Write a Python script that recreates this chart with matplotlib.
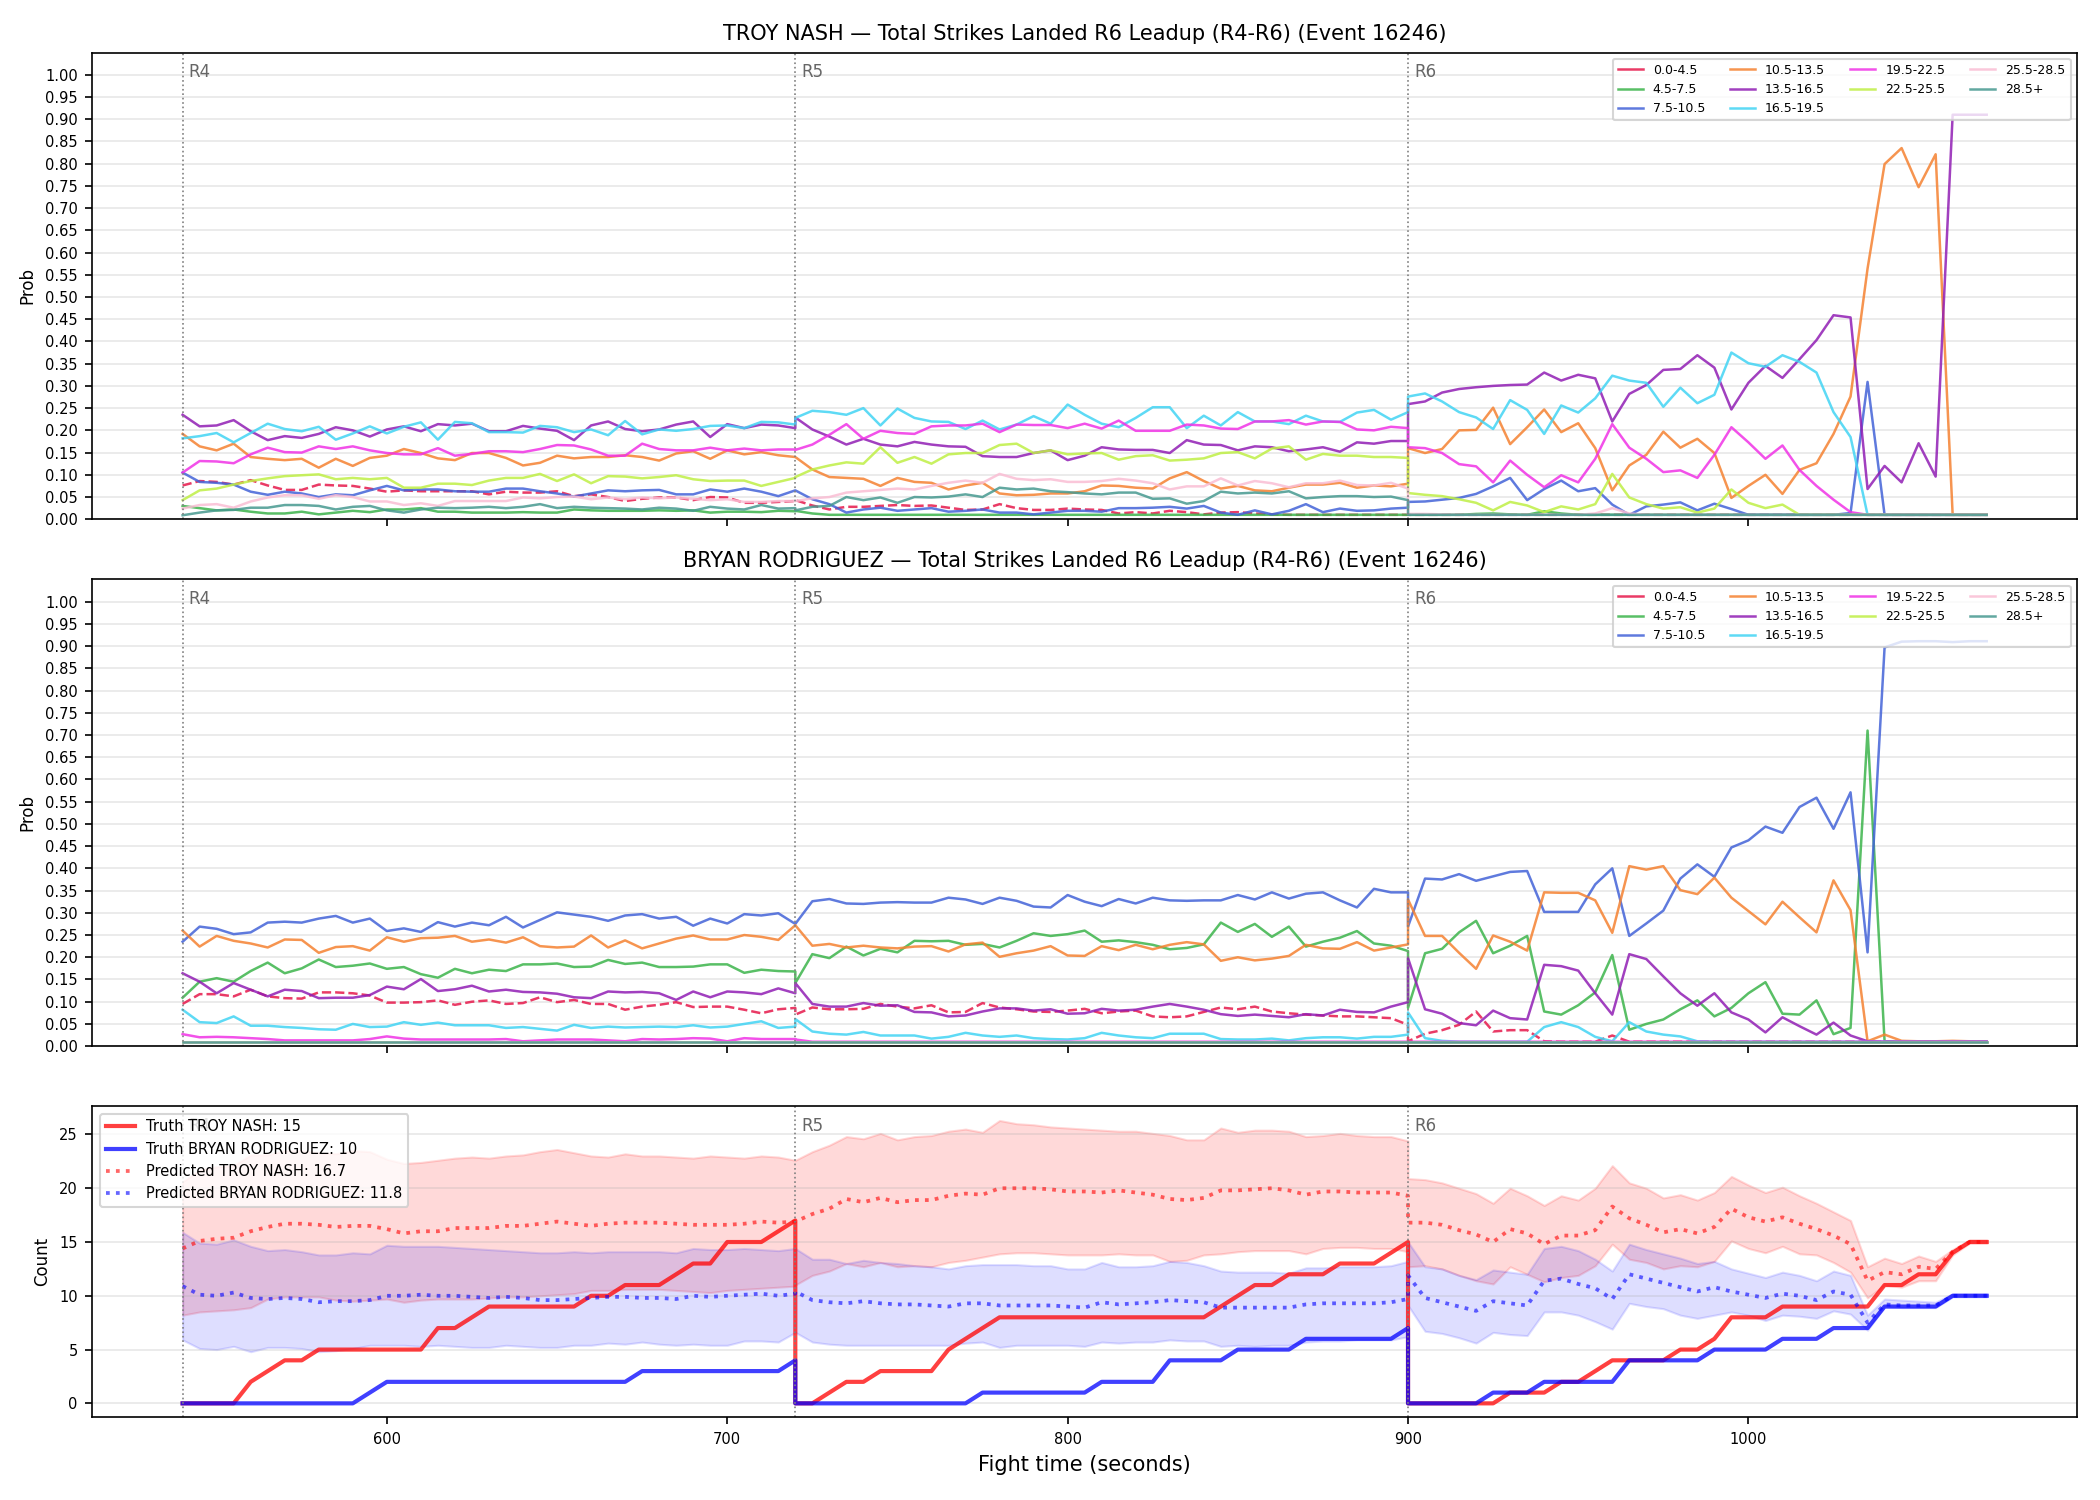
"""Strike-count bin probabilities for R4-R6 of event 16246, plus running totals."""

import matplotlib
matplotlib.use('Agg')
import matplotlib.pyplot as plt
from matplotlib.lines import Line2D
import numpy as np

# sample grid: every 5 s, each round keeps both of its end points
r4_t = list(range(540, 721, 5))
r5_t = list(range(720, 901, 5))
r6_t = list(range(900, 1071, 5))
times = r4_t + r5_t + r6_t
round_starts = [540, 720, 900]
round_names = ["R4", "R5", "R6"]

bins = ["0.0-4.5", "4.5-7.5", "7.5-10.5", "10.5-13.5", "13.5-16.5",
        "16.5-19.5", "19.5-22.5", "22.5-25.5", "25.5-28.5", "28.5+"]
colors = ['#e6194b', '#3cb44b', '#4363d8', '#f58231', '#911eb4',
          '#42d4f4', '#f032e6', '#bfef45', '#fabed4', '#469990']

# ---- TROY NASH bin probabilities (R4 | R5 | R6) ----
nash_b0 = [0.076,0.086,0.084,0.078,0.088,0.076,0.066,0.066,0.078,0.076,0.075,0.069,0.062,0.065,0.063,0.063,0.063,0.063,0.056,0.062,0.060,0.060,0.063,0.052,0.056,0.050,0.041,0.046,0.049,0.049,0.043,0.050,0.049,0.037,0.037,0.039,0.041] + \
          [0.043,0.031,0.022,0.028,0.028,0.030,0.032,0.030,0.031,0.026,0.021,0.022,0.034,0.025,0.021,0.021,0.024,0.022,0.021,0.013,0.016,0.013,0.019,0.016,0.011,0.015,0.016,0.013,0.011,0.01,0.01,0.01,0.01,0.01,0.01,0.01,0.01] + \
          [0.01,0.01,0.01,0.01,0.01,0.01,0.01,0.01,0.01,0.01,0.01,0.01,0.01,0.01,0.01,0.01,0.01,0.01,0.01,0.01,0.01,0.01,0.01,0.01,0.01,0.01,0.01,0.01,0.01,0.01,0.01,0.01,0.01,0.01,0.01]
nash_b1 = [0.030,0.025,0.020,0.022,0.017,0.013,0.013,0.017,0.011,0.015,0.019,0.016,0.022,0.022,0.025,0.017,0.017,0.015,0.015,0.015,0.016,0.015,0.015,0.022,0.020,0.019,0.019,0.019,0.020,0.019,0.020,0.015,0.017,0.017,0.016,0.019,0.018] + \
          [0.019,0.013,0.01,0.01,0.01,0.01,0.01,0.01,0.01,0.01,0.01,0.01,0.01,0.01,0.01,0.01,0.01,0.01,0.01,0.01,0.01,0.01,0.01,0.01,0.01,0.01,0.01,0.01,0.01,0.01,0.01,0.01,0.01,0.01,0.01,0.01,0.01] + \
          [0.01,0.01,0.01,0.01,0.012,0.013,0.011,0.01,0.018,0.013,0.01,0.01,0.01,0.01,0.01,0.01,0.01,0.01,0.01,0.01,0.01,0.01,0.01,0.01,0.01,0.01,0.01,0.01,0.01,0.01,0.01,0.01,0.01,0.01,0.01]
nash_b2 = [0.105,0.084,0.082,0.078,0.062,0.055,0.062,0.058,0.050,0.056,0.054,0.065,0.075,0.065,0.067,0.067,0.063,0.062,0.062,0.069,0.069,0.063,0.058,0.051,0.058,0.065,0.063,0.065,0.066,0.056,0.056,0.067,0.062,0.069,0.062,0.052,0.065] + \
          [0.065,0.045,0.034,0.015,0.022,0.026,0.019,0.022,0.025,0.017,0.019,0.022,0.015,0.015,0.011,0.015,0.019,0.019,0.017,0.025,0.025,0.026,0.028,0.024,0.030,0.015,0.010,0.020,0.011,0.019,0.034,0.016,0.024,0.019,0.020,0.024,0.026] + \
          [0.039,0.040,0.044,0.048,0.057,0.074,0.093,0.043,0.068,0.087,0.063,0.070,0.033,0.010,0.029,0.033,0.038,0.020,0.035,0.023,0.01,0.01,0.01,0.01,0.01,0.01,0.014,0.309,0.01,0.01,0.01,0.01,0.01,0.01,0.01]
nash_b3 = [0.192,0.164,0.155,0.170,0.140,0.136,0.133,0.136,0.116,0.136,0.120,0.138,0.143,0.158,0.149,0.137,0.133,0.149,0.149,0.138,0.121,0.127,0.143,0.137,0.140,0.140,0.144,0.140,0.132,0.148,0.153,0.136,0.155,0.146,0.151,0.144,0.140] + \
          [0.140,0.112,0.095,0.093,0.091,0.075,0.093,0.084,0.082,0.067,0.076,0.082,0.058,0.054,0.055,0.058,0.058,0.063,0.076,0.075,0.071,0.069,0.092,0.106,0.086,0.069,0.075,0.065,0.063,0.071,0.078,0.078,0.082,0.071,0.076,0.074,0.080] + \
          [0.160,0.149,0.158,0.200,0.201,0.251,0.169,0.207,0.247,0.196,0.216,0.160,0.065,0.121,0.145,0.197,0.161,0.181,0.149,0.048,0.075,0.100,0.057,0.111,0.126,0.192,0.276,0.564,0.799,0.835,0.747,0.821,0.01,0.01,0.01]
nash_b4 = [0.235,0.209,0.211,0.223,0.198,0.178,0.187,0.183,0.192,0.207,0.200,0.186,0.202,0.209,0.198,0.214,0.211,0.215,0.198,0.198,0.210,0.204,0.199,0.178,0.211,0.220,0.203,0.198,0.202,0.213,0.220,0.185,0.214,0.205,0.213,0.211,0.205] + \
          [0.229,0.202,0.186,0.168,0.181,0.168,0.164,0.174,0.168,0.164,0.163,0.142,0.140,0.140,0.149,0.155,0.133,0.143,0.162,0.157,0.156,0.156,0.149,0.178,0.168,0.167,0.155,0.164,0.162,0.153,0.157,0.162,0.152,0.173,0.170,0.176,0.176] + \
          [0.259,0.265,0.285,0.293,0.297,0.300,0.302,0.303,0.330,0.312,0.325,0.317,0.220,0.282,0.302,0.336,0.338,0.369,0.341,0.247,0.307,0.345,0.318,0.360,0.403,0.459,0.454,0.068,0.120,0.083,0.171,0.096,0.910,0.910,0.910]
nash_b5 = [0.182,0.187,0.194,0.173,0.194,0.215,0.203,0.198,0.208,0.179,0.193,0.209,0.193,0.208,0.218,0.179,0.219,0.216,0.196,0.196,0.195,0.210,0.207,0.196,0.202,0.189,0.221,0.191,0.202,0.199,0.203,0.210,0.211,0.205,0.219,0.218,0.213] + \
          [0.228,0.244,0.241,0.235,0.250,0.211,0.249,0.228,0.220,0.219,0.203,0.222,0.202,0.213,0.232,0.215,0.258,0.235,0.215,0.207,0.228,0.252,0.252,0.205,0.233,0.211,0.241,0.220,0.220,0.214,0.233,0.220,0.219,0.240,0.246,0.224,0.241] + \
          [0.276,0.283,0.265,0.241,0.229,0.203,0.268,0.246,0.192,0.256,0.240,0.272,0.323,0.312,0.307,0.253,0.296,0.261,0.280,0.375,0.351,0.343,0.369,0.354,0.330,0.241,0.185,0.01,0.01,0.01,0.01,0.01,0.01,0.01,0.01]
nash_b6 = [0.105,0.131,0.130,0.126,0.146,0.161,0.151,0.150,0.164,0.158,0.164,0.155,0.149,0.146,0.146,0.160,0.143,0.147,0.153,0.153,0.151,0.158,0.167,0.166,0.157,0.143,0.143,0.170,0.158,0.155,0.155,0.161,0.155,0.159,0.155,0.157,0.157] + \
          [0.156,0.168,0.190,0.214,0.181,0.199,0.194,0.192,0.209,0.211,0.211,0.215,0.196,0.213,0.212,0.212,0.205,0.215,0.204,0.222,0.199,0.199,0.199,0.213,0.211,0.204,0.203,0.220,0.220,0.223,0.213,0.220,0.219,0.202,0.200,0.208,0.205] + \
          [0.162,0.160,0.149,0.124,0.119,0.083,0.132,0.100,0.072,0.099,0.083,0.136,0.214,0.161,0.136,0.106,0.110,0.093,0.145,0.207,0.173,0.136,0.166,0.111,0.075,0.044,0.016,0.01,0.01,0.01,0.01,0.01,0.01,0.01,0.01]
nash_b7 = [0.043,0.065,0.069,0.078,0.086,0.092,0.097,0.099,0.101,0.090,0.093,0.090,0.093,0.071,0.071,0.080,0.080,0.077,0.087,0.093,0.093,0.102,0.086,0.101,0.081,0.097,0.096,0.092,0.095,0.099,0.090,0.086,0.087,0.087,0.075,0.084,0.093] + \
          [0.095,0.112,0.121,0.128,0.125,0.162,0.127,0.140,0.125,0.146,0.149,0.149,0.167,0.170,0.149,0.155,0.146,0.148,0.149,0.134,0.142,0.144,0.132,0.134,0.137,0.149,0.151,0.137,0.159,0.164,0.134,0.147,0.143,0.143,0.140,0.140,0.138] + \
          [0.059,0.055,0.052,0.045,0.037,0.020,0.039,0.031,0.016,0.029,0.022,0.034,0.102,0.049,0.034,0.024,0.027,0.015,0.024,0.067,0.037,0.025,0.033,0.01,0.01,0.01,0.01,0.01,0.01,0.01,0.01,0.01,0.01,0.01,0.01]
nash_b8 = [0.024,0.032,0.034,0.026,0.040,0.049,0.054,0.054,0.046,0.054,0.050,0.040,0.040,0.032,0.036,0.030,0.041,0.041,0.041,0.041,0.049,0.047,0.050,0.051,0.045,0.049,0.045,0.049,0.047,0.049,0.046,0.043,0.045,0.039,0.039,0.041,0.041] + \
          [0.041,0.047,0.050,0.060,0.063,0.066,0.069,0.067,0.075,0.082,0.087,0.082,0.102,0.091,0.088,0.090,0.084,0.084,0.086,0.091,0.087,0.081,0.067,0.074,0.074,0.092,0.076,0.086,0.081,0.072,0.081,0.081,0.087,0.077,0.076,0.082,0.069] + \
          [0.012,0.012,0.011,0.01,0.01,0.01,0.01,0.01,0.01,0.01,0.01,0.013,0.025,0.013,0.01,0.01,0.01,0.01,0.01,0.01,0.01,0.01,0.01,0.01,0.01,0.01,0.01,0.01,0.01,0.01,0.01,0.01,0.01,0.01,0.01]
nash_b9 = [0.009,0.015,0.020,0.021,0.026,0.026,0.032,0.032,0.030,0.022,0.028,0.030,0.020,0.015,0.022,0.026,0.025,0.026,0.028,0.025,0.028,0.034,0.025,0.028,0.026,0.025,0.024,0.022,0.026,0.024,0.019,0.028,0.024,0.022,0.032,0.024,0.025] + \
          [0.020,0.028,0.030,0.050,0.043,0.049,0.037,0.050,0.049,0.051,0.056,0.050,0.071,0.067,0.069,0.063,0.061,0.058,0.056,0.060,0.060,0.046,0.047,0.035,0.041,0.062,0.058,0.060,0.058,0.063,0.047,0.050,0.052,0.052,0.050,0.051,0.043] + \
          [0.01,0.01,0.01,0.01,0.01,0.01,0.01,0.01,0.01,0.01,0.01,0.01,0.01,0.01,0.01,0.01,0.01,0.01,0.01,0.01,0.01,0.01,0.01,0.01,0.01,0.01,0.01,0.01,0.01,0.01,0.01,0.01,0.01,0.01,0.01]

# ---- BRYAN RODRIGUEZ bin probabilities (R4 | R5 | R6) ----
rod_b0 = [0.095,0.117,0.117,0.112,0.127,0.112,0.108,0.107,0.121,0.121,0.119,0.114,0.098,0.098,0.099,0.103,0.093,0.100,0.103,0.095,0.097,0.110,0.099,0.104,0.095,0.095,0.082,0.089,0.093,0.099,0.088,0.089,0.089,0.082,0.074,0.083,0.086] + \
         [0.071,0.087,0.083,0.083,0.084,0.095,0.089,0.085,0.092,0.076,0.077,0.097,0.087,0.083,0.078,0.077,0.080,0.084,0.074,0.078,0.080,0.067,0.065,0.067,0.077,0.087,0.083,0.089,0.078,0.074,0.071,0.069,0.067,0.067,0.065,0.063,0.048] + \
         [0.011,0.028,0.036,0.048,0.078,0.033,0.036,0.036,0.011,0.01,0.01,0.01,0.024,0.01,0.01,0.01,0.01,0.01,0.01,0.01,0.01,0.01,0.01,0.01,0.01,0.01,0.01,0.01,0.01,0.01,0.01,0.01,0.01,0.01,0.01]
rod_b1 = [0.109,0.145,0.153,0.145,0.169,0.188,0.164,0.175,0.195,0.178,0.181,0.186,0.174,0.178,0.162,0.154,0.174,0.164,0.172,0.169,0.184,0.184,0.186,0.178,0.179,0.194,0.185,0.188,0.178,0.178,0.179,0.184,0.184,0.165,0.172,0.169,0.168] + \
         [0.142,0.207,0.198,0.224,0.204,0.219,0.211,0.237,0.236,0.237,0.228,0.230,0.222,0.237,0.254,0.248,0.252,0.260,0.235,0.238,0.234,0.228,0.218,0.221,0.229,0.278,0.257,0.275,0.246,0.269,0.224,0.235,0.244,0.259,0.231,0.226,0.214] + \
         [0.086,0.209,0.219,0.256,0.282,0.209,0.226,0.248,0.078,0.071,0.092,0.121,0.205,0.037,0.050,0.060,0.083,0.103,0.067,0.086,0.119,0.144,0.073,0.071,0.103,0.027,0.041,0.710,0.011,0.01,0.01,0.01,0.01,0.01,0.01]
rod_b2 = [0.235,0.269,0.264,0.252,0.256,0.278,0.280,0.278,0.287,0.293,0.278,0.287,0.259,0.265,0.257,0.279,0.269,0.278,0.272,0.291,0.267,0.284,0.301,0.296,0.291,0.282,0.294,0.297,0.287,0.291,0.271,0.287,0.276,0.297,0.294,0.299,0.275] + \
         [0.275,0.326,0.331,0.321,0.320,0.323,0.324,0.323,0.323,0.334,0.330,0.320,0.334,0.327,0.314,0.312,0.340,0.325,0.315,0.331,0.321,0.334,0.328,0.327,0.328,0.328,0.340,0.330,0.346,0.332,0.343,0.346,0.328,0.312,0.354,0.346,0.346] + \
         [0.269,0.377,0.375,0.387,0.372,0.382,0.392,0.394,0.302,0.302,0.302,0.364,0.400,0.248,0.276,0.305,0.377,0.409,0.381,0.447,0.463,0.494,0.480,0.538,0.559,0.489,0.571,0.211,0.897,0.910,0.911,0.911,0.909,0.911,0.911]
rod_b3 = [0.260,0.224,0.248,0.237,0.231,0.222,0.240,0.239,0.210,0.223,0.225,0.215,0.245,0.235,0.243,0.244,0.248,0.235,0.240,0.233,0.245,0.225,0.222,0.224,0.249,0.222,0.238,0.220,0.231,0.242,0.249,0.240,0.240,0.250,0.246,0.239,0.272] + \
         [0.272,0.226,0.230,0.222,0.226,0.222,0.220,0.224,0.225,0.213,0.229,0.233,0.201,0.209,0.215,0.225,0.204,0.203,0.225,0.216,0.228,0.218,0.228,0.234,0.229,0.192,0.200,0.193,0.197,0.203,0.228,0.220,0.219,0.234,0.215,0.222,0.229] + \
         [0.330,0.248,0.248,0.210,0.174,0.249,0.235,0.215,0.346,0.345,0.345,0.328,0.255,0.405,0.397,0.405,0.351,0.342,0.379,0.334,0.304,0.274,0.325,0.290,0.256,0.373,0.306,0.011,0.026,0.012,0.011,0.011,0.012,0.011,0.01]
rod_b4 = [0.164,0.145,0.119,0.142,0.127,0.112,0.127,0.124,0.108,0.109,0.109,0.115,0.134,0.128,0.151,0.124,0.128,0.136,0.123,0.127,0.122,0.121,0.118,0.110,0.108,0.123,0.121,0.122,0.119,0.104,0.123,0.110,0.123,0.121,0.117,0.130,0.119] + \
         [0.142,0.095,0.089,0.089,0.097,0.091,0.092,0.077,0.076,0.067,0.069,0.078,0.085,0.085,0.080,0.083,0.073,0.074,0.084,0.080,0.082,0.089,0.095,0.089,0.082,0.072,0.068,0.071,0.068,0.065,0.072,0.069,0.082,0.077,0.076,0.089,0.099] + \
         [0.198,0.083,0.073,0.052,0.047,0.080,0.063,0.060,0.183,0.180,0.170,0.119,0.071,0.207,0.196,0.157,0.119,0.091,0.119,0.076,0.060,0.031,0.065,0.045,0.026,0.053,0.024,0.011,0.01,0.01,0.01,0.01,0.01,0.01,0.01]
rod_b5 = [0.082,0.054,0.052,0.067,0.046,0.046,0.043,0.041,0.038,0.037,0.050,0.043,0.044,0.054,0.048,0.053,0.047,0.047,0.047,0.041,0.043,0.039,0.035,0.048,0.041,0.044,0.042,0.043,0.044,0.043,0.047,0.042,0.044,0.050,0.056,0.041,0.044] + \
         [0.061,0.033,0.028,0.026,0.032,0.024,0.024,0.024,0.017,0.021,0.030,0.024,0.021,0.024,0.018,0.016,0.015,0.018,0.030,0.024,0.020,0.018,0.028,0.028,0.028,0.016,0.015,0.015,0.017,0.013,0.018,0.020,0.020,0.017,0.021,0.021,0.026] + \
         [0.076,0.018,0.012,0.01,0.01,0.01,0.01,0.01,0.043,0.054,0.043,0.021,0.011,0.054,0.033,0.026,0.022,0.011,0.01,0.01,0.01,0.01,0.01,0.01,0.01,0.01,0.01,0.01,0.01,0.01,0.01,0.01,0.01,0.01,0.01]
rod_b6 = [0.027,0.020,0.021,0.020,0.018,0.016,0.013,0.013,0.013,0.013,0.013,0.016,0.022,0.017,0.015,0.015,0.015,0.015,0.015,0.016,0.011,0.013,0.015,0.015,0.015,0.013,0.011,0.016,0.015,0.016,0.018,0.017,0.011,0.018,0.016,0.016,0.016] + \
         [0.015,0.01,0.01,0.01,0.01,0.01,0.01,0.01,0.01,0.01,0.01,0.01,0.01,0.01,0.01,0.01,0.01,0.01,0.01,0.01,0.01,0.01,0.01,0.01,0.01,0.01,0.01,0.01,0.01,0.01,0.01,0.01,0.01,0.01,0.01,0.01,0.01] + \
         [0.01,0.01,0.01,0.01,0.01,0.01,0.01,0.01,0.01,0.01,0.01,0.01,0.01,0.01,0.01,0.01,0.01,0.01,0.01,0.01,0.01,0.01,0.01,0.01,0.01,0.01,0.01,0.01,0.01,0.01,0.01,0.01,0.01,0.01,0.01]
rod_flat = [0.01,0.01,0.01,0.01,0.01,0.01,0.01,0.01,0.01,0.01,0.01,0.01,0.01,0.01,0.01,0.01,0.01,0.01,0.01,0.01,0.01,0.01,0.01,0.01,0.01,0.01,0.01,0.01,0.01,0.01,0.01,0.01,0.01,0.01,0.01,0.01,0.01] + \
           [0.01,0.01,0.01,0.01,0.01,0.01,0.01,0.01,0.01,0.01,0.01,0.01,0.01,0.01,0.01,0.01,0.01,0.01,0.01,0.01,0.01,0.01,0.01,0.01,0.01,0.01,0.01,0.01,0.01,0.01,0.01,0.01,0.01,0.01,0.01,0.01,0.01] + \
           [0.01,0.01,0.01,0.01,0.01,0.01,0.01,0.01,0.01,0.01,0.01,0.01,0.01,0.01,0.01,0.01,0.01,0.01,0.01,0.01,0.01,0.01,0.01,0.01,0.01,0.01,0.01,0.01,0.01,0.01,0.01,0.01,0.01,0.01,0.01]
rod_b7 = rod_flat
rod_b8 = rod_flat
rod_b9 = rod_flat

# ---- running totals (R4 | R5 | R6) ----
truth_nash = [0,0,0,0,2,3,4,4,5,5,5,5,5,5,5,7,7,8,9,9,9,9,9,9,10,10,11,11,11,12,13,13,15,15,15,16,17] + \
             [0,0,1,2,2,3,3,3,3,5,6,7,8,8,8,8,8,8,8,8,8,8,8,8,8,9,10,11,11,12,12,12,13,13,13,14,15] + \
             [0,0,0,0,0,0,1,1,1,2,2,3,4,4,4,4,5,5,6,8,8,8,9,9,9,9,9,9,11,11,12,12,14,15,15]
truth_rod = [0,0,0,0,0,0,0,0,0,0,0,1,2,2,2,2,2,2,2,2,2,2,2,2,2,2,2,3,3,3,3,3,3,3,3,3,4] + \
            [0,0,0,0,0,0,0,0,0,0,0,1,1,1,1,1,1,1,2,2,2,2,4,4,4,4,5,5,5,5,6,6,6,6,6,6,7] + \
            [0,0,0,0,0,1,1,1,2,2,2,2,2,4,4,4,4,4,5,5,5,5,6,6,6,7,7,7,9,9,9,9,10,10,10]
pred_nash = [14.4,15.1,15.3,15.4,16.0,16.4,16.7,16.7,16.6,16.4,16.5,16.5,16.2,15.8,16.0,16.0,16.3,16.3,16.3,16.5,16.5,16.7,16.9,16.7,16.5,16.7,16.8,16.8,16.8,16.7,16.6,16.6,16.6,16.7,16.9,16.8,16.9] + \
            [16.9,17.6,18.1,19.0,18.7,19.1,18.7,18.9,18.9,19.3,19.5,19.4,20.0,20.0,20.0,19.9,19.7,19.7,19.6,19.8,19.6,19.4,19.0,18.9,19.1,19.8,19.8,19.9,20.0,19.8,19.4,19.7,19.7,19.6,19.6,19.6,19.3] + \
            [16.8,16.8,16.6,16.1,15.7,15.0,16.2,15.8,14.8,15.6,15.6,16.1,18.3,17.2,16.6,15.9,16.2,15.8,16.4,18.1,17.3,16.9,17.3,16.7,16.2,15.6,14.8,11.4,12.2,12.0,12.7,12.5,14.1,15.0,15.0]
nash_hi = [20.6,21.7,22.0,22.1,23.1,23.1,23.5,23.5,23.3,23.2,23.5,23.4,22.7,22.3,22.4,22.6,22.8,22.9,22.8,23.0,23.1,23.4,23.6,23.3,23.0,22.9,23.2,23.0,23.0,22.9,22.8,23.0,22.9,22.8,23.0,22.9,22.6] + \
          [22.6,23.4,24.0,24.8,24.6,25.1,24.5,24.8,24.9,25.3,25.5,25.2,26.3,26.0,25.9,25.7,25.6,25.5,25.4,25.3,25.3,25.1,24.9,24.5,24.5,25.6,25.2,25.4,25.4,25.3,24.8,24.9,25.1,24.9,24.8,24.8,24.4] + \
          [20.9,20.8,20.5,20.0,19.5,18.6,20.0,19.3,18.4,19.3,18.9,20.0,22.1,20.5,20.0,19.1,19.4,18.9,19.6,21.1,20.3,19.6,20.1,19.3,18.6,17.8,17.0,12.7,13.5,13.0,13.7,13.2,14.3,15.2,15.2]
nash_lo = [8.2,8.5,8.6,8.7,8.9,9.7,9.9,9.9,9.9,9.6,9.5,9.6,9.7,9.4,9.6,9.7,9.7,9.7,9.8,9.9,9.9,10.0,10.1,10.2,10.5,10.5,10.6,10.6,10.6,10.5,10.4,10.3,10.5,10.6,10.7,10.8,10.9] + \
          [11.0,11.9,12.3,13.0,12.7,13.1,12.7,12.8,12.7,13.1,13.3,13.6,13.9,14.0,14.0,13.9,13.8,13.8,13.8,13.9,13.8,13.8,13.2,13.3,13.8,13.9,14.1,14.2,14.2,14.2,13.9,14.4,14.5,14.5,14.4,14.4,14.1] + \
          [12.7,12.8,12.5,11.9,11.4,11.1,12.7,12.0,11.3,11.7,11.9,12.8,14.8,13.4,13.1,12.5,12.8,12.7,13.2,15.1,14.4,14.0,14.6,13.9,13.8,13.1,12.2,9.8,11.0,10.8,11.4,11.4,13.8,14.9,14.9]
pred_rod = [10.9,10.1,10.0,10.3,9.8,9.7,9.8,9.7,9.4,9.5,9.5,9.6,10.0,10.0,10.1,10.0,10.0,9.9,9.8,9.9,9.8,9.6,9.6,9.7,9.8,9.9,9.9,9.8,9.8,9.7,10.0,9.9,10.0,10.1,10.2,10.0,10.2] + \
           [10.4,9.6,9.4,9.3,9.5,9.3,9.2,9.2,9.1,9.0,9.3,9.3,9.1,9.1,9.1,9.1,9.0,8.9,9.4,9.2,9.3,9.4,9.6,9.5,9.4,8.9,8.9,8.9,8.9,8.9,9.2,9.3,9.3,9.3,9.3,9.4,9.7] + \
           [11.9,9.8,9.4,9.0,8.6,9.5,9.3,9.1,11.4,11.6,11.1,10.7,9.7,12.0,11.6,11.2,10.8,10.4,10.8,10.4,10.1,9.8,10.2,10.0,9.6,10.4,10.1,7.5,9.2,9.1,9.1,9.1,10.0,10.0,10.0]
rod_hi = [15.9,14.9,14.8,15.2,14.6,14.2,14.3,14.1,13.8,13.8,14.0,13.9,14.7,14.6,14.6,14.6,14.5,14.4,14.3,14.2,14.1,14.0,14.0,14.1,14.0,14.1,14.1,14.1,14.1,14.0,14.4,14.3,14.3,14.4,14.3,14.2,14.4] + \
         [14.4,13.4,13.4,13.0,13.3,13.1,13.0,12.8,12.7,12.5,12.8,12.9,12.9,12.9,12.8,12.8,12.5,12.5,13.1,12.7,12.7,12.8,13.2,13.1,12.8,12.3,12.2,12.2,12.2,12.1,12.6,12.6,12.7,12.7,12.7,12.8,13.2] + \
         [15.0,12.7,12.5,11.9,11.5,12.4,12.2,12.0,14.4,14.6,14.2,13.4,12.3,14.8,14.3,13.9,13.5,13.0,13.2,12.5,12.1,11.7,12.2,11.9,11.4,12.3,11.9,8.2,9.7,9.6,9.5,9.4,10.2,10.2,10.2]
rod_lo = [5.9,5.1,5.0,5.3,4.8,5.2,5.2,5.1,4.8,4.9,5.1,5.4,5.4,5.4,5.3,5.4,5.3,5.2,5.2,5.4,5.3,5.2,5.2,5.4,5.4,5.6,5.5,5.7,5.5,5.4,5.5,5.4,5.4,5.8,5.8,5.7,6.6] + \
         [6.6,5.7,5.5,5.4,5.4,5.4,5.4,5.4,5.4,5.4,5.6,5.7,5.2,5.4,5.4,5.4,5.4,5.3,5.7,5.6,5.7,5.7,5.9,5.8,5.8,5.3,5.4,5.3,5.4,5.4,5.7,5.8,5.8,5.9,5.9,5.9,6.2] + \
         [9.1,6.7,6.5,6.1,5.6,6.6,6.4,6.3,8.5,8.5,8.2,7.6,6.9,9.3,9.0,8.8,8.2,7.9,8.2,8.5,8.2,7.7,8.2,8.1,7.9,8.6,8.3,6.8,9.0,8.9,8.9,8.9,9.9,9.9,9.9]

nash_probs = [nash_b0, nash_b1, nash_b2, nash_b3, nash_b4, nash_b5, nash_b6, nash_b7, nash_b8, nash_b9]
rod_probs = [rod_b0, rod_b1, rod_b2, rod_b3, rod_b4, rod_b5, rod_b6, rod_b7, rod_b8, rod_b9]

fig, axes = plt.subplots(3, 1, figsize=(14, 10), sharex=True,
                         gridspec_kw={'height_ratios': [3, 3, 2]})
fig.subplots_adjust(left=0.044, right=0.989, top=0.965, bottom=0.055, hspace=0.145)

# probability panels
for ax, fighter, series in [(axes[0], "TROY NASH", nash_probs),
                            (axes[1], "BRYAN RODRIGUEZ", rod_probs)]:
    for lab, col, ys in zip(bins, colors, series):
        ls = '--' if lab == "0.0-4.5" else '-'
        ax.plot(times, ys, color=col, lw=1.2, alpha=0.85, ls=ls)
    ax.set_ylim(0, 1.05)
    ax.set_yticks(np.arange(0, 1.001, 0.05))
    ax.set_ylabel("Prob", fontsize=8)
    ax.set_title(f"{fighter} — Total Strikes Landed R6 Leadup (R4-R6) (Event 16246)", fontsize=10)
    ax.grid(axis='y', alpha=0.3)
    handles = [Line2D([], [], color=c, lw=1.2, alpha=0.85) for c in colors]
    ax.legend(handles, bins, loc='upper right', ncol=4, fontsize=6)

# running totals panel
ax = axes[2]
ax.fill_between(times, nash_lo, nash_hi, color='red', alpha=0.15)
ax.fill_between(times, rod_lo, rod_hi, color='blue', alpha=0.13)
ax.plot(times, truth_nash, color='red', lw=2, alpha=0.75, label="Truth TROY NASH: 15")
ax.plot(times, truth_rod, color='blue', lw=2, alpha=0.75, label="Truth BRYAN RODRIGUEZ: 10")
ax.plot(times, pred_nash, color='red', lw=1.8, ls=':', alpha=0.6, label="Predicted TROY NASH: 16.7")
ax.plot(times, pred_rod, color='blue', lw=1.8, ls=':', alpha=0.6, label="Predicted BRYAN RODRIGUEZ: 11.8")
ax.set_ylabel("Count", fontsize=8)
ax.set_xlabel("Fight time (seconds)", fontsize=10)
ax.grid(axis='y', alpha=0.3)

# round markers
for a in axes:
    for rs, rn in zip(round_starts, round_names):
        a.axvline(rs, color='gray', ls=':', lw=0.8)
        a.annotate(rn, xy=(rs, 1), xycoords=('data', 'axes fraction'),
                   xytext=(3, -5), textcoords='offset points',
                   va='top', fontsize=8, color='#666666')
    a.tick_params(labelsize=7)

ax.legend(loc='upper left', fontsize=7)

plt.savefig("out.png", dpi=150)
